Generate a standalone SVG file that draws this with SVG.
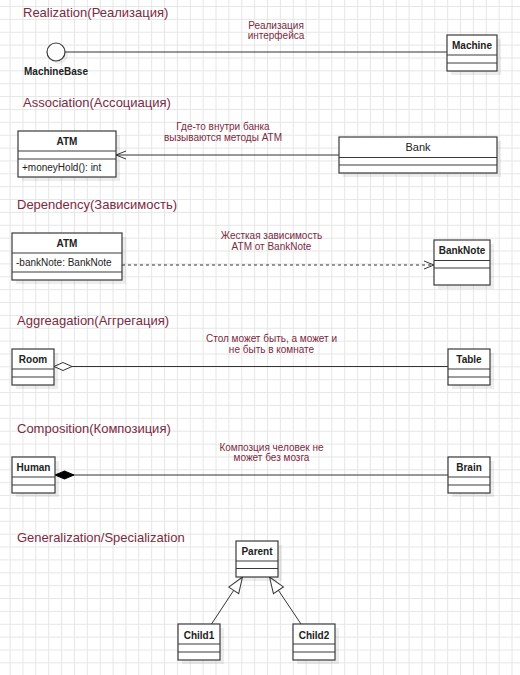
<svg xmlns="http://www.w3.org/2000/svg" width="520" height="675" viewBox="0 0 520 675">
<style>
.title{font-family:"Liberation Sans",Arial,sans-serif;font-size:13px;fill:#7b2a3f}
.lbl{font-family:"Liberation Sans",Arial,sans-serif;font-size:10px;fill:#7b2a3f;text-anchor:middle}
.nm{font-family:"Liberation Sans",Arial,sans-serif;font-size:10px;font-weight:bold;fill:#222;text-anchor:middle}
.nmr{font-family:"Liberation Sans",Arial,sans-serif;font-size:11px;fill:#222;text-anchor:middle}
.attr{font-family:"Liberation Sans",Arial,sans-serif;font-size:10px;fill:#222}
.box{fill:#fff;stroke:#3a3a3a;stroke-width:1.2}
.sh{fill:#000;opacity:0.07}
.div{stroke:#3a3a3a;stroke-width:1.2}
.edge{fill:none;stroke:#333;stroke-width:1}
</style>
<defs>
<pattern id="grid" x="9.6" y="6" width="12.87" height="12.87" patternUnits="userSpaceOnUse">
<rect x="0" y="0" width="1" height="12.87" fill="#e6e6e6"/>
<rect x="0" y="0" width="12.87" height="1" fill="#e6e6e6"/>
</pattern>
<marker id="open" markerUnits="userSpaceOnUse" viewBox="-1 -1 12 10" refX="10" refY="4" markerWidth="12" markerHeight="10" orient="auto" overflow="visible">
<path d="M0,0 L10,4 L0,8" fill="none" stroke="#333" stroke-width="1"/>
</marker>
<marker id="tri" markerUnits="userSpaceOnUse" viewBox="-1 -1 18 14" refX="16" refY="6" markerWidth="18" markerHeight="14" orient="auto" overflow="visible">
<path d="M0,0 L16,6 L0,12 Z" fill="#fff" stroke="#333" stroke-width="1"/>
</marker>
<marker id="dOpen" markerUnits="userSpaceOnUse" viewBox="-1 -1 20 10" refX="0" refY="4" markerWidth="20" markerHeight="10" orient="auto" overflow="visible">
<path d="M0,4 L9,0 L18,4 L9,8 Z" fill="#fff" stroke="#333" stroke-width="1"/>
</marker>
<marker id="dFill" markerUnits="userSpaceOnUse" viewBox="-1 -1 21 10" refX="0" refY="4" markerWidth="21" markerHeight="10" orient="auto" overflow="visible">
<path d="M0,4 L9.5,0 L19,4 L9.5,8 Z" fill="#000" stroke="#000" stroke-width="1"/>
</marker>
</defs>
<rect width="520" height="675" fill="#fff"/>
<rect width="520" height="675" fill="url(#grid)"/>

<g id="titles">
<text class="title" x="23" y="17">Realization(Реализация)</text>
<text class="title" x="23" y="107">Association(Ассоциация)</text>
<text class="title" x="17" y="209">Dependency(Зависимость)</text>
<text class="title" x="17" y="325">Aggreagation(Аггрегация)</text>
<text class="title" x="17" y="433">Composition(Композиция)</text>
<text class="title" x="17" y="541.5">Generalization/Specialization</text>
</g>

<g id="connectors">
<path class="edge" d="M65,52 L447,52"/>
<path class="edge" d="M339,155 L116,155" marker-end="url(#open)"/>
<path class="edge" d="M122,265 L434,265" stroke-dasharray="3,3" marker-end="url(#open)"/>
<path class="edge" d="M54,366.5 L448,366.5" marker-start="url(#dOpen)"/>
<path class="edge" d="M55,475 L448,475" marker-start="url(#dFill)"/>
<path class="edge" d="M211.5,624 L242.5,577" marker-end="url(#tri)"/>
<path class="edge" d="M301,624 L269.5,577" marker-end="url(#tri)"/>
<text class="lbl" x="276" y="28.5">Реализация</text>
<text class="lbl" x="276" y="39">интерфейса</text>
<text class="lbl" x="223" y="130">Где-то внутри банка</text>
<text class="lbl" x="223" y="141">вызываются методы ATM</text>
<text class="lbl" x="271.5" y="239">Жесткая зависимость</text>
<text class="lbl" x="271.5" y="250">ATM от BankNote</text>
<text class="lbl" x="271.5" y="342">Стол может быть, а может и</text>
<text class="lbl" x="271.5" y="352.5">не быть в комнате</text>
<text class="lbl" x="271.5" y="450.5">Композция человек не</text>
<text class="lbl" x="271.5" y="461">может без мозга</text>
</g>

<g id="MachineBase">
<circle class="sh" cx="59" cy="55" r="9"/>
<circle cx="56" cy="52" r="9" fill="#fff" stroke="#3a3a3a" stroke-width="1.2"/>
<text class="nm" x="56" y="75">MachineBase</text>
</g>

<g id="Machine">
<rect class="sh" x="451" y="39" width="50" height="36"/>
<rect class="box" x="447" y="35" width="50" height="36"/>
<path class="div" d="M447,55 H497 M447,63 H497"/>
<text class="nm" x="472" y="49">Machine</text>
</g>

<g id="ATM1">
<rect class="sh" x="22" y="135" width="98" height="46"/>
<rect class="box" x="18" y="131" width="98" height="46"/>
<path class="div" d="M18,151 H116 M18,159 H116"/>
<text class="nm" x="67" y="145">ATM</text>
<text class="attr" x="22" y="171">+moneyHold(): int</text>
</g>

<g id="Bank">
<rect class="sh" x="343" y="141" width="158" height="36"/>
<rect class="box" x="339" y="137" width="158" height="36"/>
<path class="div" d="M339,157.5 H497 M339,165 H497"/>
<text class="nmr" x="418" y="151">Bank</text>
</g>

<g id="ATM2">
<rect class="sh" x="16" y="237" width="110" height="47"/>
<rect class="box" x="12" y="233" width="110" height="47"/>
<path class="div" d="M12,253 H122 M12,272 H122"/>
<text class="nm" x="67" y="247">ATM</text>
<text class="attr" x="16" y="266">-bankNote: BankNote</text>
</g>

<g id="BankNote">
<rect class="sh" x="438" y="244" width="56" height="45"/>
<rect class="box" x="434" y="240" width="56" height="45"/>
<path class="div" d="M434,260.5 H490 M434,268 H490"/>
<text class="nm" x="462" y="254">BankNote</text>
</g>

<g id="Room">
<rect class="sh" x="16" y="353" width="42" height="36"/>
<rect class="box" x="12" y="349" width="42" height="36"/>
<path class="div" d="M12,369 H54 M12,377 H54"/>
<text class="nm" x="33" y="363">Room</text>
</g>

<g id="Table">
<rect class="sh" x="452" y="353" width="42" height="36"/>
<rect class="box" x="448" y="349" width="42" height="36"/>
<path class="div" d="M448,369 H490 M448,377 H490"/>
<text class="nm" x="469" y="363">Table</text>
</g>

<g id="Human">
<rect class="sh" x="16" y="461" width="43" height="36"/>
<rect class="box" x="12" y="457" width="43" height="36"/>
<path class="div" d="M12,477 H55 M12,485 H55"/>
<text class="nm" x="33.5" y="471">Human</text>
</g>

<g id="Brain">
<rect class="sh" x="452" y="461" width="42" height="36"/>
<rect class="box" x="448" y="457" width="42" height="36"/>
<path class="div" d="M448,477 H490 M448,485 H490"/>
<text class="nm" x="469" y="471">Brain</text>
</g>

<g id="Parent">
<rect class="sh" x="240" y="545" width="42" height="36"/>
<rect class="box" x="236" y="541" width="42" height="36"/>
<path class="div" d="M236,561 H278 M236,568.5 H278"/>
<text class="nm" x="257" y="555">Parent</text>
</g>

<g id="Child1">
<rect class="sh" x="182" y="628" width="42" height="36"/>
<rect class="box" x="178" y="624" width="42" height="36"/>
<path class="div" d="M178,644 H220 M178,652 H220"/>
<text class="nm" x="199" y="639">Child1</text>
</g>

<g id="Child2">
<rect class="sh" x="297" y="628" width="42" height="36"/>
<rect class="box" x="293" y="624" width="42" height="36"/>
<path class="div" d="M293,644 H335 M293,652 H335"/>
<text class="nm" x="314" y="639">Child2</text>
</g>
</svg>
